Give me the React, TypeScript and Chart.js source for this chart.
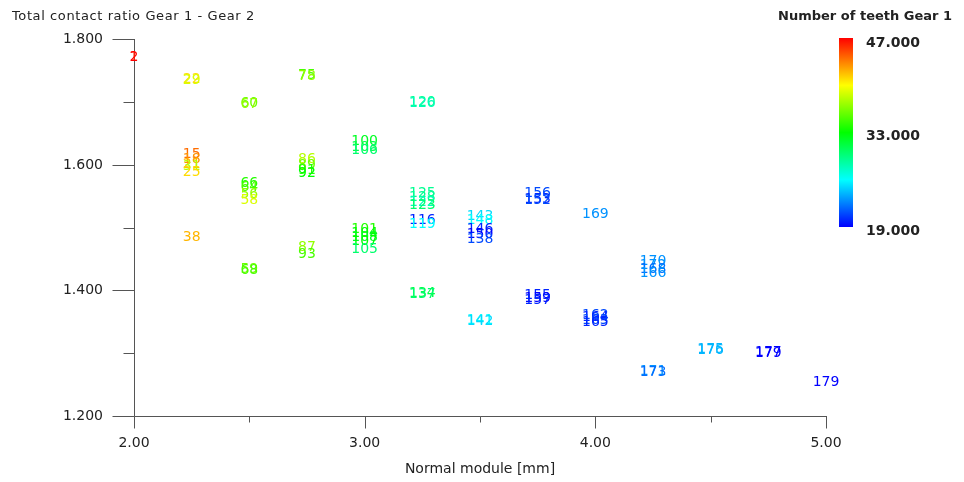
import React, { useEffect, useRef } from 'react';
import { Chart, registerables } from 'chart.js';

Chart.register(...registerables);

// ---- data ----
const designIds = [
  '1', '2', '22', '29', '15', '18', '21', '31', '25', '38',
  '60', '67', '66', '64', '56', '58', '59', '68',
  '75', '78', '86', '89', '91', '92', '87', '93',
  '100', '103', '106', '101', '104', '108', '107', '105',
  '120', '126', '125', '128', '122', '123', '116', '119', '134', '137',
  '143', '148', '146', '150', '138', '141', '142',
  '156', '153', '152', '155', '159', '157',
  '169', '162', '164', '163', '165',
  '170', '172', '168', '166', '171', '173',
  '175', '176', '177', '179', '179',
];
const normalModule = [
  2.0, 2.0, 2.25, 2.25, 2.25, 2.25, 2.25, 2.25, 2.25, 2.25,
  2.5, 2.5, 2.5, 2.5, 2.5, 2.5, 2.5, 2.5,
  2.75, 2.75, 2.75, 2.75, 2.75, 2.75, 2.75, 2.75,
  3.0, 3.0, 3.0, 3.0, 3.0, 3.0, 3.0, 3.0,
  3.25, 3.25, 3.25, 3.25, 3.25, 3.25, 3.25, 3.25, 3.25, 3.25,
  3.5, 3.5, 3.5, 3.5, 3.5, 3.5, 3.5,
  3.75, 3.75, 3.75, 3.75, 3.75, 3.75,
  4.0, 4.0, 4.0, 4.0, 4.0,
  4.25, 4.25, 4.25, 4.25, 4.25, 4.25,
  4.5, 4.5, 4.75, 4.75, 5.0,
];
const contactRatio = [
  1.772, 1.771, 1.736, 1.735, 1.617, 1.609, 1.601, 1.598, 1.588, 1.484,
  1.698, 1.697, 1.571, 1.564, 1.553, 1.543, 1.433, 1.432,
  1.743, 1.741, 1.609, 1.600, 1.592, 1.587, 1.468, 1.458,
  1.638, 1.628, 1.624, 1.497, 1.491, 1.485, 1.478, 1.465,
  1.699, 1.698, 1.555, 1.548, 1.540, 1.535, 1.512, 1.505, 1.396, 1.394,
  1.518, 1.512, 1.497, 1.490, 1.482, 1.352, 1.351,
  1.555, 1.545, 1.543, 1.392, 1.388, 1.385,
  1.521, 1.361, 1.357, 1.352, 1.349,
  1.447, 1.440, 1.433, 1.427, 1.271, 1.269,
  1.306, 1.305, 1.301, 1.300, 1.254,
];
const teethGear1 = [
  46, 47, 41, 39, 44, 43, 42, 38, 41, 42,
  36, 37, 34, 35, 37, 39, 36, 35,
  35, 37, 38, 36, 34, 33, 37, 35,
  32, 31, 30, 34, 33, 32, 33, 30,
  29, 28, 29, 29, 28, 30, 20, 26, 31, 30,
  25, 26, 20, 19, 21, 26, 25,
  21, 20, 21, 20, 19, 20,
  23, 21, 20, 21, 20,
  23, 23, 22, 23, 23, 22,
  24, 24, 19, 19, 19,
];
const xTickValues = [2, 2.5, 3, 3.5, 4, 4.5, 5];
const yTickValues = [1.2, 1.3, 1.4, 1.5, 1.6, 1.7, 1.8];
const colorbarLabels = ['47.000', '33.000', '19.000'];
const teethMin = 19;
const teethMax = 47;

const FONT = "'DejaVu Sans', sans-serif";
const AXIS_COLOR = '#555';
const TEXT_COLOR = '#222';

function teethColor(v: number): string {
  const t = (teethMax - v) / (teethMax - teethMin);
  const hue = Math.max(0, Math.min(240, t * 240));
  return `hsl(${hue}, 100%, 50%)`;
}

const axesPlugin = {
  id: 'customAxes',
  beforeDatasetsDraw(chart: any) {
    const ctx = chart.ctx;
    const xs = chart.scales.x;
    const ys = chart.scales.y;
    const area = chart.chartArea;
    const L = Math.round(area.left) + 0.5;
    const B = Math.round(area.bottom) + 0.5;
    ctx.save();
    ctx.strokeStyle = AXIS_COLOR;
    ctx.lineWidth = 1;
    ctx.beginPath();
    ctx.moveTo(L, Math.round(area.top));
    ctx.lineTo(L, B);
    ctx.moveTo(L, B);
    ctx.lineTo(Math.round(area.right) + 1, B);
    xTickValues.forEach((v) => {
      const px = Math.round(xs.getPixelForValue(v)) + 0.5;
      const major = Math.abs(v - Math.round(v)) < 1e-6;
      ctx.moveTo(px, B);
      ctx.lineTo(px, B + (major ? 12 : 6));
    });
    yTickValues.forEach((v) => {
      const py = Math.round(ys.getPixelForValue(v)) + 0.5;
      const major = Math.round(v * 10) % 2 === 0;
      ctx.moveTo(L, py);
      ctx.lineTo(L - (major ? 22 : 11), py);
    });
    ctx.stroke();
    ctx.restore();
  },
  afterDatasetsDraw(chart: any) {
    const ctx = chart.ctx;
    const meta = chart.getDatasetMeta(0);
    ctx.save();
    ctx.font = `14px ${FONT}`;
    ctx.textAlign = 'center';
    ctx.textBaseline = 'middle';
    meta.data.forEach((el: any, i: number) => {
      ctx.fillStyle = teethColor(teethGear1[i]);
      ctx.fillText(designIds[i], el.x, el.y);
    });
    ctx.restore();
  },
  afterDraw(chart: any) {
    const ctx = chart.ctx;
    ctx.save();
    // y axis title (top-left)
    ctx.fillStyle = TEXT_COLOR;
    ctx.font = `13px ${FONT}`;
    try { (ctx as any).letterSpacing = '0.6px'; } catch (e) { /* ignore */ }
    ctx.textAlign = 'left';
    ctx.textBaseline = 'middle';
    ctx.fillText('Total contact ratio Gear 1 - Gear 2', 12, 17);
    try { (ctx as any).letterSpacing = '0px'; } catch (e) { /* ignore */ }

    // colorbar
    const cbX = 839, cbTop = 38, cbBottom = 227, cbW = 14;
    const grad = ctx.createLinearGradient(0, cbTop, 0, cbBottom);
    for (let k = 0; k <= 8; k++) {
      grad.addColorStop(k / 8, `hsl(${k * 30}, 100%, 50%)`);
    }
    ctx.fillStyle = grad;
    ctx.fillRect(cbX, cbTop, cbW, cbBottom - cbTop);

    ctx.fillStyle = TEXT_COLOR;
    ctx.font = `bold 13px ${FONT}`;
    ctx.textAlign = 'right';
    ctx.fillText('Number of teeth Gear 1', 952, 17);
    ctx.textAlign = 'left';
    ctx.font = `bold 14px ${FONT}`;
    const cbYs = [cbTop + 5, (cbTop + cbBottom) / 2 + 4, cbBottom + 4];
    colorbarLabels.forEach((t, i) => ctx.fillText(t, 866, cbYs[i]));
    ctx.restore();
  },
};

export default function App() {
  const canvasRef = useRef<HTMLCanvasElement | null>(null);

  useEffect(() => {
    if (!canvasRef.current) return;
    const points = normalModule.map((x, i) => ({ x, y: contactRatio[i] }));
    const chart = new Chart(canvasRef.current, {
      type: 'scatter',
      data: {
        datasets: [
          {
            data: points,
            pointRadius: 0,
            pointHoverRadius: 0,
            showLine: false,
          },
        ],
      },
      options: {
        animation: false,
        responsive: true,
        maintainAspectRatio: false,
        layout: { padding: { top: 38, right: 138, left: 0, bottom: 0 } },
        plugins: { legend: { display: false }, tooltip: { enabled: false } },
        scales: {
          x: {
            type: 'linear',
            min: 2,
            max: 5,
            afterFit: (s: any) => { s.height = 66; },
            afterBuildTicks: (s: any) => { s.ticks = xTickValues.map((v) => ({ value: v })); },
            grid: { display: false, drawTicks: false },
            border: { display: false },
            ticks: {
              autoSkip: false,
              maxRotation: 0,
              padding: 19,
              color: TEXT_COLOR,
              font: { family: FONT, size: 14 },
              callback: (v: any) => (Math.abs(v - Math.round(v)) < 1e-6 ? Number(v).toFixed(2) : ''),
            },
            title: {
              display: true,
              text: 'Normal module [mm]',
              color: TEXT_COLOR,
              font: { family: FONT, size: 14 },
              padding: { top: 0, bottom: 4 },
            },
          },
          y: {
            type: 'linear',
            min: 1.2,
            max: 1.8,
            afterFit: (s: any) => { s.width = 134; },
            afterBuildTicks: (s: any) => { s.ticks = yTickValues.map((v) => ({ value: v })); },
            grid: { display: false, drawTicks: false },
            border: { display: false },
            ticks: {
              autoSkip: false,
              padding: 31,
              color: TEXT_COLOR,
              font: { family: FONT, size: 14 },
              callback: (v: any) => (Math.round(Number(v) * 10) % 2 === 0 ? Number(v).toFixed(3) : ''),
            },
          },
        },
      },
      plugins: [axesPlugin],
    } as any);
    return () => chart.destroy();
  }, []);

  return (
    <div style={{ position: 'fixed', left: 0, top: 0, width: 964, height: 482, background: '#fff' }}>
      <canvas ref={canvasRef} />
    </div>
  );
}
